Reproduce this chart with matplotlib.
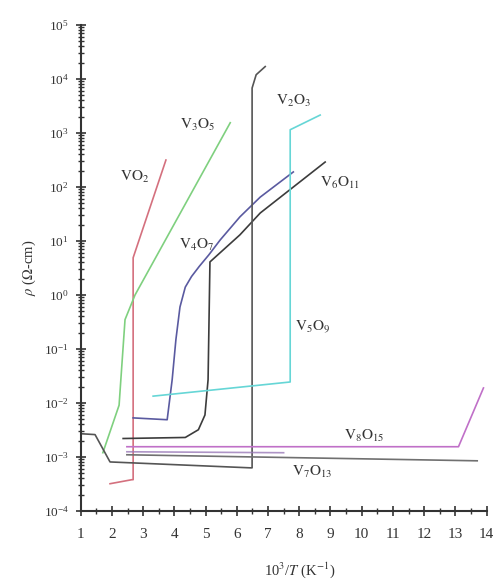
import numpy as np
import matplotlib
matplotlib.use("Agg")
import matplotlib.pyplot as plt
from matplotlib.ticker import LogLocator, MultipleLocator, NullFormatter

plt.rcParams["font.family"] = "Liberation Serif"
plt.rcParams["mathtext.fontset"] = "stix"

# ===============================
# Datos (x = 10^3/T, y = rho en ohm-cm)
# ===============================
vo2_x = [1.94, 2.64, 2.68, 2.68, 3.73]
vo2_y = [3.2e-4, 3.8e-4, 3.8e-4, 4.9, 316]

v3o5_x = [1.71, 2.23, 2.29, 2.42, 2.74, 5.79]
v3o5_y = [1.2e-3, 9.1e-3, 0.029, 0.35, 1.0, 1550]

v4o7_x = [2.68, 3.77, 3.93, 4.05, 4.18, 4.35, 4.55, 4.8, 5.1, 5.47, 6.1, 6.75, 7.81]
v4o7_y = [5.3e-3, 4.9e-3, 0.027, 0.15, 0.6, 1.4, 2.2, 3.4, 5.5, 10.5, 28, 65, 190]

v6o11_x = [2.36, 4.35, 4.77, 4.98, 5.08, 5.14, 6.10, 6.75, 8.83]
v6o11_y = [2.2e-3, 2.3e-3, 3.2e-3, 6.0e-3, 0.027, 4.1, 13, 33, 290]

v2o3_x = [1.0, 1.46, 1.94, 6.43, 6.49, 6.49, 6.62, 6.91]
v2o3_y = [2.7e-3, 2.6e-3, 8.1e-4, 6.3e-4, 6.3e-4, 6.8e3, 1.2e4, 1.7e4]

v5o9_x = [3.32, 7.71, 7.71, 8.67]
v5o9_y = [0.0134, 0.0245, 1150, 2150]

v8o15_x = [2.48, 13.1, 13.9]
v8o15_y = [1.55e-3, 1.55e-3, 0.019]

v8o15b_x = [2.48, 7.5]
v8o15b_y = [1.25e-3, 1.2e-3]

v7o13_x = [2.48, 13.7]
v7o13_y = [1.1e-3, 8.5e-4]

# etiquetas: (texto, x, y)
etiquetas = [
    (r"$\mathrm{VO_2}$", 2.73, 155),
    (r"$\mathrm{V_3O_5}$", 4.73, 1400),
    (r"$\mathrm{V_4O_7}$", 4.72, 8.5),
    (r"$\mathrm{V_2O_3}$", 7.81, 4000),
    (r"$\mathrm{V_6O_{11}}$", 9.3, 120),
    (r"$\mathrm{V_5O_9}$", 8.42, 0.26),
    (r"$\mathrm{V_8O_{15}}$", 10.07, 2.5e-3),
    (r"$\mathrm{V_7O_{13}}$", 8.42, 5.2e-4),
]

# ===============================
# Gráfica
# ===============================
fig = plt.figure(figsize=(4.95, 5.83), dpi=100)
ax = fig.add_axes([0.163, 0.1235, 0.820, 0.8336])

lw = 1.2
ax.plot(vo2_x, vo2_y, color="#d4707e", lw=lw)
ax.plot(v3o5_x, v3o5_y, color="#7fd07f", lw=lw)
ax.plot(v4o7_x, v4o7_y, color="#5a5aa0", lw=lw)
ax.plot(v6o11_x, v6o11_y, color="#3c3c3c", lw=lw)
ax.plot(v2o3_x, v2o3_y, color="#555555", lw=lw)
ax.plot(v5o9_x, v5o9_y, color="#66d6d6", lw=lw)
ax.plot(v8o15_x, v8o15_y, color="#c070c8", lw=lw)
ax.plot(v8o15b_x, v8o15b_y, color="#9a7ab8", lw=lw, alpha=0.8)
ax.plot(v7o13_x, v7o13_y, color="#707070", lw=lw)

for txt, x, y in etiquetas:
    ax.text(x, y, txt, fontsize=11, ha="center", va="center", color="#333333")

ax.set_yscale("log")
ax.set_xlim(1, 14)
ax.set_ylim(1e-4, 1e5)
ax.set_xticks(range(1, 15))
ax.xaxis.set_minor_locator(MultipleLocator(0.5))
ax.yaxis.set_major_locator(LogLocator(base=10, numticks=20))
ax.yaxis.set_minor_locator(LogLocator(base=10, subs=np.arange(2, 10), numticks=20))
ax.yaxis.set_minor_formatter(NullFormatter())

for s in ["top", "right"]:
    ax.spines[s].set_visible(False)
for s in ["left", "bottom"]:
    ax.spines[s].set_linewidth(1.5)
    ax.spines[s].set_color("#333333")

ax.tick_params(which="major", direction="inout", length=7, width=1.2,
               colors="#333333", labelsize=11)
ax.tick_params(which="minor", direction="inout", length=4, width=1.0,
               colors="#333333")
ax.tick_params(axis="x", pad=9)
ax.tick_params(axis="y", labelsize=9.5, pad=5)

ax.set_ylabel(r"$\rho$ ($\Omega$-cm)", fontsize=10.5, color="#333333", labelpad=4)
ax.set_xlabel(r"10$^3$/$T$ (K$^{-1}$)", fontsize=10.5, color="#333333")
ax.xaxis.set_label_coords(0.54, -0.102)

fig.savefig("out.png", dpi=100)
